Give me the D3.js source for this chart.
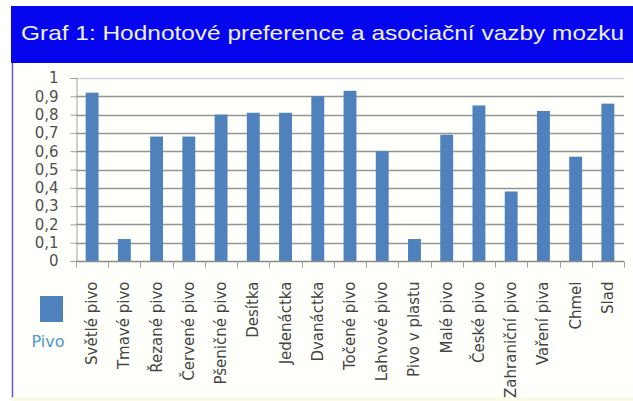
<!DOCTYPE html>
<html>
<head>
<meta charset="utf-8">
<script src="https://cdn.jsdelivr.net/npm/d3@7/dist/d3.min.js"></script>
<style>
  html, body { margin: 0; padding: 0; background: #ffffff; }
  svg { display: block; }
</style>
</head>
<body>
<svg id="chart" width="633" height="401"></svg>
<script>
// Category labels along the x axis
const categories = [
  "Světlé pivo", "Tmavé pivo", "Řezané pivo", "Červené pivo", "Pšeničné pivo",
  "Desítka", "Jedenáctka", "Dvanáctka", "Točené pivo", "Lahvové pivo",
  "Pivo v plastu", "Malé pivo", "České pivo", "Zahraniční pivo", "Vaření piva",
  "Chmel", "Slad"
];
// Association strength for the single series "Pivo"
const seriesName = "Pivo";
const values = [
  0.92, 0.12, 0.68, 0.68, 0.80,
  0.81, 0.81, 0.90, 0.93, 0.60,
  0.12, 0.69, 0.85, 0.38, 0.82,
  0.57, 0.86
];
// Y axis tick values
const yTicks = [0, 0.1, 0.2, 0.3, 0.4, 0.5, 0.6, 0.7, 0.8, 0.9, 1];
const title = "Graf 1: Hodnotové preference a asociační vazby mozku";

const svg = d3.select("#chart");
const W = 633, H = 401;
const plot = { left: 76, right: 624, top: 78, bottom: 261 };
const barColor = "#4f81bd";
const font = "'DejaVu Sans', Verdana, sans-serif";

// Chart frame below the title banner
svg.append("rect").attr("x", 12).attr("y", 62).attr("width", W - 12).attr("height", 336)
  .attr("fill", "#fffffb");
svg.append("line").attr("x1", 12.5).attr("x2", 12.5).attr("y1", 62).attr("y2", 398)
  .attr("stroke", "#5a5ac8").attr("stroke-width", 1.5);
svg.append("rect").attr("x", 12).attr("y", 397).attr("width", W - 12).attr("height", 4)
  .attr("fill", "#fbfbe8");

// Title banner
svg.append("rect").attr("x", 11).attr("y", 6).attr("width", W - 11).attr("height", 57)
  .attr("fill", "#0505ee");
svg.append("text").attr("x", 21).attr("y", 40)
  .attr("font-family", "Arial, 'Liberation Sans', sans-serif")
  .attr("font-size", 21).attr("fill", "#eef0ff")
  .attr("textLength", 603).attr("lengthAdjust", "spacingAndGlyphs")
  .text(title);

// Scales
const x = d3.scaleBand().domain(categories).range([plot.left, plot.right]).padding(0);
const y = d3.scaleLinear().domain([0, 1]).range([plot.bottom, plot.top]);
const barW = x.bandwidth() * 0.4;

// Horizontal gridlines
svg.append("g").selectAll("line").data(yTicks.filter(d => d > 0)).join("line")
  .attr("x1", plot.left).attr("x2", plot.right)
  .attr("y1", d => Math.round(y(d)) + 0.5).attr("y2", d => Math.round(y(d)) + 0.5)
  .attr("stroke", d => d === 1 ? "#cfcfe0" : "#959595")
  .attr("stroke-width", 1.4);

// Y axis
const fmt = d3.format(".1~f");
const yAxis = d3.axisLeft(y).tickValues(yTicks).tickSize(6).tickPadding(12)
  .tickFormat(d => fmt(d).replace(".", ","));
const gy = svg.append("g").attr("transform", `translate(${plot.left + 0.5},0)`).call(yAxis);
gy.select(".domain").attr("stroke", "#a0a0a0");
gy.selectAll(".tick line").attr("stroke", "#a0a0a0");
gy.selectAll(".tick text").attr("font-family", font).attr("font-size", 15)
  .attr("fill", "#505050");

// Bars
svg.append("g").selectAll("rect").data(values).join("rect")
  .attr("x", (d, i) => x(categories[i]) + (x.bandwidth() - barW) / 2)
  .attr("y", d => y(d))
  .attr("width", barW)
  .attr("height", d => y(0) - y(d))
  .attr("fill", barColor);

// X axis with ticks on category boundaries
const gx = svg.append("g").attr("transform", `translate(0,${plot.bottom + 0.5})`);
gx.append("line").attr("x1", plot.left).attr("x2", plot.right)
  .attr("stroke", "#8a8a8a").attr("stroke-width", 1.3);
const bounds = categories.map(c => x(c)).concat([plot.right]);
gx.selectAll("line.tk").data(bounds).join("line").attr("class", "tk")
  .attr("x1", d => Math.round(d) + 0.5).attr("x2", d => Math.round(d) + 0.5)
  .attr("y1", 0).attr("y2", 6).attr("stroke", "#a0a0a0");

// Rotated category labels
gx.selectAll("text").data(categories).join("text")
  .attr("transform", d => `translate(${x(d) + x.bandwidth() / 2 + 5},20) rotate(-90)`)
  .attr("text-anchor", "end")
  .attr("font-family", font).attr("font-size", 15).attr("fill", "#444")
  .text(d => d);

// Legend
svg.append("rect").attr("x", 40).attr("y", 296).attr("width", 23).attr("height", 26)
  .attr("fill", barColor);
svg.append("text").attr("x", 48).attr("y", 347).attr("text-anchor", "middle")
  .attr("font-family", font).attr("font-size", 16).attr("fill", "#4f96cf")
  .text(seriesName);
</script>
</body>
</html>
